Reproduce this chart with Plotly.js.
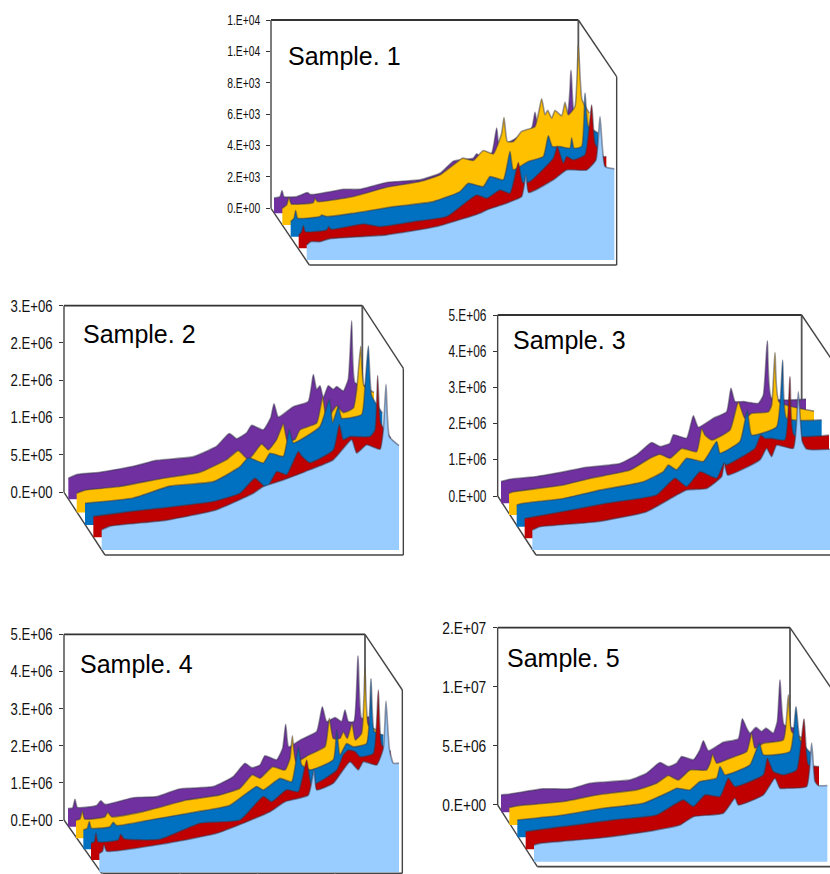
<!DOCTYPE html>
<html><head><meta charset="utf-8">
<script src="https://cdn.plot.ly/plotly-3.0.1.min.js"></script>
<style>html,body{margin:0;padding:0;background:#fff;overflow:hidden}#c{width:830px;height:874px}</style>
</head><body><div id="c"></div>
<script>
// Sample 1 values in thousands; samples 2-5 in millions. X is scan position.
const s1PurpleX=[0,18,24,30,68,100,110,188,208,258,338,438,498,538,558,598,608,620,653,668,676,718,773,783,793,878,891,900,923];
const s1PurpleY=[.98,1.06,1.45,1.06,1.06,1.32,1.19,1.45,1.53,1.53,1.96,2.13,2.55,3.32,3.40,3.51,3.79,3.57,3.83,5.43,4.26,4.68,5.43,6.43,5.53,6.17,9.11,6.38,5.81];
const s1YellowX=[0,13,20,27,93,98,106,213,313,413,473,533,541,573,603,633,658,665,675,693,718,758,778,788,796,808,818,838,848,858,878,888,899,921];
const s1YellowY=[1.06,1.28,1.77,1.34,1.43,1.70,1.49,1.81,2.40,2.77,3.19,4.15,4.26,4.11,4.74,4.53,5.85,6.85,5.32,5.32,5.96,6.28,8.04,7.02,7.30,6.81,7.30,6.96,7.81,7.02,7.55,11.49,7.98,7.13];
const s1BlueX=[0,10,15,21,88,93,108,188,308,428,508,533,578,598,638,658,668,713,758,773,785,808,838,843,850,873,883,893,923];
const s1BlueY=[.96,1.17,1.66,1.17,1.28,1.38,1.28,1.49,1.91,2.23,2.87,3.40,3.19,3.83,3.62,5.43,4.26,4.79,5.11,6.43,5.74,5.74,5.64,6.28,5.64,5.74,9.15,7.02,6.60];
const s1RedX=[0,9,14,20,84,90,97,194,244,344,444,534,564,604,634,659,672,694,764,776,794,804,824,859,879,889,914,923];
const s1RedY=[.85,1.06,1.45,1.06,1.17,1.38,1.21,1.55,1.38,1.70,2.02,3.40,3.19,3.72,3.51,5.47,4.19,4.26,5.74,6.49,5.43,5.85,5.64,5.96,9.15,6.70,5.85,5.85];
const s1LightX=[0,12,40,70,240,390,520,540,600,645,658,666,740,780,840,868,880,895,923];
const s1LightY=[.96,1.17,1.17,1.36,1.60,2.13,2.98,3.19,3.62,4.04,5.43,4.30,5.11,5.74,5.74,6.38,9.15,5.96,5.81];

const s2PurpleX=[0,25,95,195,265,375,445,483,505,535,550,585,607,617,630,675,720,735,745,755,765,780,795,805,825,840,850,860,892];
const s2PurpleY=[.28,.33,.36,.44,.52,.57,.71,.88,.81,.89,.99,.93,1.09,1.28,1.10,1.24,1.31,1.67,1.47,1.52,1.36,1.52,1.47,1.51,1.45,1.61,2.39,1.56,1.52];
const s2YellowX=[0,25,130,260,370,450,485,515,555,575,600,620,632,655,670,720,738,750,780,800,830,840,852,862,892];
const s2YellowY=[.26,.30,.35,.46,.54,.71,.83,.71,.92,.84,.98,1.19,.96,.98,1.11,1.20,1.55,1.25,1.43,1.34,1.40,1.65,2.23,1.70,1.61];
const s2BlueX=[0,145,255,385,465,490,535,555,595,613,625,705,733,743,760,770,830,840,850,860,892];
const s2BlueY=[.29,.36,.52,.58,.78,.90,.83,.96,.92,1.28,1.10,1.32,1.68,1.37,1.59,1.43,1.48,1.86,2.40,1.73,1.50];
const s2RedX=[0,120,240,360,440,485,520,550,580,615,625,650,720,738,750,770,830,845,853,862,892];
const s2RedY=[.28,.35,.41,.48,.59,.79,.66,.88,.84,1.15,1.09,1.00,1.17,1.51,1.31,1.35,1.35,1.44,2.17,1.53,1.33];
const s2LightX=[0,25,195,345,455,485,545,610,695,750,765,795,835,845,853,863,892];
const s2LightY=[.27,.32,.40,.54,.76,.85,.94,1.05,1.21,1.48,1.30,1.41,1.35,1.61,2.22,1.52,1.40];

const s3PurpleX=[0,22,107,187,252,357,407,452,477,507,517,557,577,592,637,677,690,702,727,772,787,799,812,915];
const s3PurpleY=[.60,.66,.74,.87,.99,1.10,1.34,1.68,1.57,1.66,1.89,1.80,2.42,2.10,2.35,2.53,3.18,2.81,2.81,2.76,2.99,4.49,2.90,2.88];
const s3YellowX=[0,13,163,243,363,423,453,483,518,563,578,588,608,663,688,708,728,778,788,798,810,915];
const s3YellowY=[.60,.64,.83,1.01,1.24,1.57,1.68,1.57,1.84,1.75,2.39,2.21,2.07,2.35,3.13,2.67,2.81,2.85,3.04,4.49,3.13,2.87];
const s3BlueX=[0,15,140,250,380,440,455,480,510,560,600,610,670,692,705,780,798,810,915];
const s3BlueY=[.60,.64,.78,1.01,1.24,1.52,1.70,1.57,1.89,1.80,2.35,2.03,2.35,3.22,2.53,2.76,4.60,2.99,2.95];
const s3RedX=[0,116,246,396,451,486,526,576,598,606,691,708,721,741,781,796,808,913];
const s3RedY=[.55,.74,.97,1.20,1.66,1.43,1.84,1.66,2.07,2.03,2.49,2.85,2.76,2.76,2.72,4.47,2.85,2.85];
const s3LightX=[0,23,193,343,433,463,523,568,576,586,683,703,718,733,783,798,810,823,915];
const s3LightY=[.55,.64,.78,1.06,1.52,1.66,1.70,2.03,2.39,2.07,2.49,2.81,2.58,2.90,2.81,4.37,2.99,2.79,2.79];

const s4PurpleX=[0,14,21,28,86,98,111,196,266,331,436,496,531,551,576,591,626,644,653,662,696,746,763,776,801,821,831,841,858,870,881,903];
const s4PurpleY=[.49,.51,.74,.52,.57,.70,.60,.78,.81,1.01,1.08,1.35,1.71,1.59,1.66,1.91,1.80,2.11,2.76,2.15,2.33,2.56,3.23,2.83,2.94,2.83,3.14,2.83,2.83,4.60,2.92,2.96];
const s4YellowX=[0,12,19,26,87,95,107,202,332,432,492,529,552,590,627,642,649,660,697,747,760,772,792,802,814,828,838,857,867,877,902];
const s4YellowY=[.49,.52,.74,.52,.58,.70,.58,.72,1.03,1.17,1.35,1.71,1.62,1.93,1.84,2.15,2.76,2.06,2.24,2.47,3.23,2.69,2.69,2.87,2.69,3.10,2.65,2.83,4.58,3.05,2.92];
const s4BlueX=[0,12,18,24,80,90,100,200,340,440,520,540,590,625,645,655,680,750,760,770,790,810,850,863,873,900];
const s4BlueY=[.52,.57,.75,.57,.61,.73,.64,.79,1.01,1.19,1.69,1.60,1.91,1.82,2.76,2.27,2.14,2.41,3.21,2.54,2.85,2.76,2.85,4.60,3.17,3.08];
const s4RedX=[0,10,15,21,82,89,99,207,327,447,517,542,587,622,647,662,737,757,772,792,807,847,862,872,899];
const s4RedY=[.45,.49,.72,.49,.54,.69,.57,.56,.99,1.08,1.71,1.57,1.89,1.84,2.69,2.02,2.42,2.83,2.96,2.92,2.78,2.87,4.58,3.10,2.92];
const s4LightX=[0,10,14,22,202,352,512,557,627,644,652,702,752,777,792,832,852,860,870,882,899];
const s4LightY=[.51,.57,.74,.57,.78,1.05,1.63,1.90,2.08,2.76,2.22,2.40,2.98,2.76,2.98,2.89,3.34,4.61,3.34,2.94,2.94];

const s5PurpleX=[0,27,127,207,267,387,437,477,502,527,542,577,597,607,622,667,712,724,737,747,765,782,795,817,829,837,849,880];
const s5PurpleY=[1.47,1.55,1.98,1.98,2.46,2.74,3.31,4.21,3.87,4.15,4.72,4.44,5.28,6.05,5.20,5.93,6.21,7.91,7.12,6.69,7.18,6.84,7.12,6.69,7.68,11.21,7.40,7.12];
const s5YellowX=[0,22,162,262,382,442,477,507,542,592,602,610,622,662,712,727,737,762,822,837,847,880];
const s5YellowY=[1.47,1.61,1.98,2.54,2.97,3.53,4.18,3.81,4.66,4.66,5.23,5.99,5.23,5.65,6.21,7.77,6.50,6.92,7.20,11.02,7.91,7.34];
const s5BlueX=[0,138,258,378,458,478,518,548,598,608,623,698,726,738,818,836,848,880];
const s5BlueY=[1.47,1.89,2.46,2.88,3.87,4.15,4.01,4.72,5.00,5.99,5.28,6.13,7.97,6.98,7.26,11.07,8.25,7.12];
const s5RedX=[0,113,263,393,473,503,538,583,608,628,713,725,743,773,813,835,848,875,880];
const s5RedY=[1.50,1.92,2.49,2.91,4.18,3.62,4.60,4.46,6.02,5.31,6.30,7.71,6.58,6.30,6.72,11.05,7.15,7.01,7.01];
const s5LightX=[0,18,188,338,438,478,568,603,613,688,723,738,758,818,833,843,853,880];
const s5LightY=[1.41,1.55,1.98,2.54,3.11,3.81,4.10,5.37,4.80,5.65,7.06,6.21,6.21,6.36,10.03,6.78,6.44,6.44];

const seriesColors=['#7030A0','#FFC000','#0070C0','#C00000','#99CCFF'];
const s1Ticks=[0,2,4,6,8,10,12], s1Labels=['0.E+00','2.E+03','4.E+03','6.E+03','8.E+03','1.E+04','1.E+04'];
const s2Ticks=[0,.5,1,1.5,2,2.5], s2Labels=['0.E+00','5.E+05','1.E+06','2.E+06','2.E+06','3.E+06'];
const s3Ticks=[0,1,2,3,4,5], s3Labels=['0.E+00','1.E+06','2.E+06','3.E+06','4.E+06','5.E+06'];
const s4Ticks=[0,1,2,3,4,5], s4Labels=['0.E+00','1.E+06','2.E+06','3.E+06','4.E+06','5.E+06'];
const s5Ticks=[0,5,10,15], s5Labels=['0.E+00','5.E+06','1.E+07','2.E+07'];

// Panel geometry, in 1/3-pixel units relative to crop corner (cx,cy)
const W=830,H=874;
const panels=[
 {name:'Sample. 1',cx:220,cy:0,L:153,R:1075,T:60,Z:625,OR:1190,OT:230,FL:268,FB:795,k:47,top:12,fs:14,lw:33,
  x0:[162,187,212,236,260],base:[640,675,710,745,780],tx:205,ty:165,ticks:s1Ticks,labels:s1Labels,
  d:[[s1PurpleX,s1PurpleY],[s1YellowX,s1YellowY],[s1BlueX,s1BlueY],[s1RedX,s1RedY],[s1LightX,s1LightY]]},
 {name:'Sample. 2',cx:0,cy:290,L:192,R:1087,T:47,Z:607,OR:1210,OT:235,FL:315,FB:795,k:223,top:2.5,fs:17,lw:42,
  x0:[205,230,255,280,305],base:[628,668,705,742,780],tx:248,ty:130,ticks:s2Ticks,labels:s2Labels,
  d:[[s2PurpleX,s2PurpleY],[s2YellowX,s2YellowY],[s2BlueX,s2BlueY],[s2RedX,s2RedY],[s2LightX,s2LightY]]},
 {name:'Sample. 3',cx:430,cy:295,L:203,R:1115,T:60,Z:603,OR:1240,OT:245,FL:318,FB:780,k:108.6,top:5,fs:16,lw:38,
  x0:[213,237,260,284,307],base:[625,660,695,730,765],tx:250,ty:133,ticks:s3Ticks,labels:s3Labels,
  d:[[s3PurpleX,s3PurpleY],[s3YellowX,s3YellowY],[s3BlueX,s3BlueY],[s3RedX,s3RedY],[s3LightX,s3LightY]]},
 {name:'Sample. 4',cx:0,cy:615,L:192,R:1095,T:58,Z:615,OR:1207,OT:225,FL:305,FB:775,k:111.4,top:5,fs:17,lw:42,
  x0:[204,228,250,273,298],base:[635,670,703,735,772],tx:240,ty:145,ticks:s4Ticks,labels:s4Labels,
  d:[[s4PurpleX,s4PurpleY],[s4YellowX,s4YellowY],[s4BlueX,s4BlueY],[s4RedX,s4RedY],[s4LightX,s4LightY]]},
 {name:'Sample. 5',cx:430,cy:615,L:203,R:1080,T:38,Z:570,OR:1205,OT:222,FL:322,FB:755,k:35.4,top:15,fs:17,lw:44,
  x0:[213,238,262,287,312],base:[592,630,667,703,740],tx:232,ty:125,ticks:s5Ticks,labels:s5Labels,
  d:[[s5PurpleX,s5PurpleY],[s5YellowX,s5YellowY],[s5BlueX,s5BlueY],[s5RedX,s5RedY],[s5LightX,s5LightY]]}
];

const traces=[],shapes=[],annotations=[];
const layout={width:W,height:H,margin:{l:0,r:0,t:0,b:0},paper_bgcolor:'#fff',plot_bgcolor:'rgba(0,0,0,0)',showlegend:false,hovermode:false};
const frac=(px,total)=>Math.max(0,Math.min(1,px/total));
panels.forEach((p,pi)=>{
  const n=pi+1, xa='x'+n, ya='y'+n;
  const pxX=z=>p.cx+z/3, pxY=z=>p.cy+z/3;
  const rightZ=Math.min(p.OR,(W-p.cx)*3), botZ=Math.min(p.FB,(H-p.cy)*3);
  layout['xaxis'+n]={visible:false,range:[0,rightZ-p.L],domain:[frac(pxX(p.L),W),frac(pxX(rightZ),W)],anchor:ya,fixedrange:true};
  layout['yaxis'+n]={range:[(p.Z-botZ)/p.k,p.top],domain:[1-frac(pxY(botZ),H),1-frac(pxY(p.T),H)],anchor:xa,
    tickmode:'array',tickvals:p.ticks,ticktext:p.labels,ticks:'outside',ticklen:4,tickwidth:1,tickcolor:'#333',ticklabelstandoff:3,
    showline:false,showgrid:false,zeroline:false,fixedrange:true,
    tickfont:{family:'"Liberation Sans",Arial,sans-serif',size:p.fs,color:'#111'}};
  p.d.forEach((s,i)=>{
    const dx=p.x0[i]-p.L, by=(p.Z-p.base[i])/p.k;
    const xs=s[0].map(v=>v+dx), ys=s[1].map(v=>v+by);
    const last=xs[xs.length-1];
    traces.push({type:'scatter',mode:'lines',xaxis:xa,yaxis:ya,hoverinfo:'skip',x:[dx,last],y:[by,by],line:{width:0}});
    traces.push({type:'scatter',mode:'lines',xaxis:xa,yaxis:ya,hoverinfo:'skip',x:xs,y:ys,fill:'tonexty',fillcolor:seriesColors[i],
      line:{width:1.6,color:'rgba(55,55,75,0.5)',shape:'spline',smoothing:0.45}});
  });
  const seg=(a,b,c,d,w,col)=>shapes.push({type:'line',xref:'paper',yref:'paper',layer:'below',
    x0:pxX(a)/W,y0:1-pxY(b)/H,x1:pxX(c)/W,y1:1-pxY(d)/H,line:{color:col,width:w}});
  seg(p.L,p.T,p.R,p.T,1.8,'#333');
  seg(p.L,p.T,p.L,p.Z,1.4,'#444');
  seg(p.R,p.T,p.R,p.Z,1.8,'#555');
  seg(p.R,p.T,p.OR,p.OT,1.4,'#444');
  seg(p.OR,p.OT,p.OR,p.FB,1.4,'#444');
  seg(p.L,p.Z,p.FL,p.FB,1.4,'#444');
  seg(p.FL,p.FB,p.OR,p.FB,1.6,'#444');
  annotations.push({xref:'paper',yref:'paper',x:pxX(p.tx)/W,y:1-pxY(p.ty)/H,xanchor:'left',yanchor:'middle',showarrow:false,xshift:-2,yshift:-1,
    text:p.name,font:{family:'"Liberation Sans",Arial,sans-serif',size:25,color:'#000'}});
});
// bottom tick stubs of the cropped Sample 4 panel
[308,540,773,1005].forEach(z=>shapes.push({type:'line',xref:'paper',yref:'paper',layer:'below',
  x0:z/3/W,x1:z/3/W,y0:0,y1:5/H,line:{color:'#888',width:1}}));
layout.shapes=shapes;layout.annotations=annotations;
Plotly.newPlot('c',traces,layout,{staticPlot:true,displayModeBar:false}).then(gd=>{
  // the reference's tick labels are a condensed face: squeeze the real text to the same width
  panels.forEach((p,pi)=>{
    const id=pi===0?'y':'y'+(pi+1);
    gd.querySelectorAll('.'+(id==='y'?'y1':id)+'tick text, .'+id+'tick text').forEach(t=>{
      t.setAttribute('textLength',p.lw);t.setAttribute('lengthAdjust','spacingAndGlyphs');
    });
  });
});
</script></body></html>
